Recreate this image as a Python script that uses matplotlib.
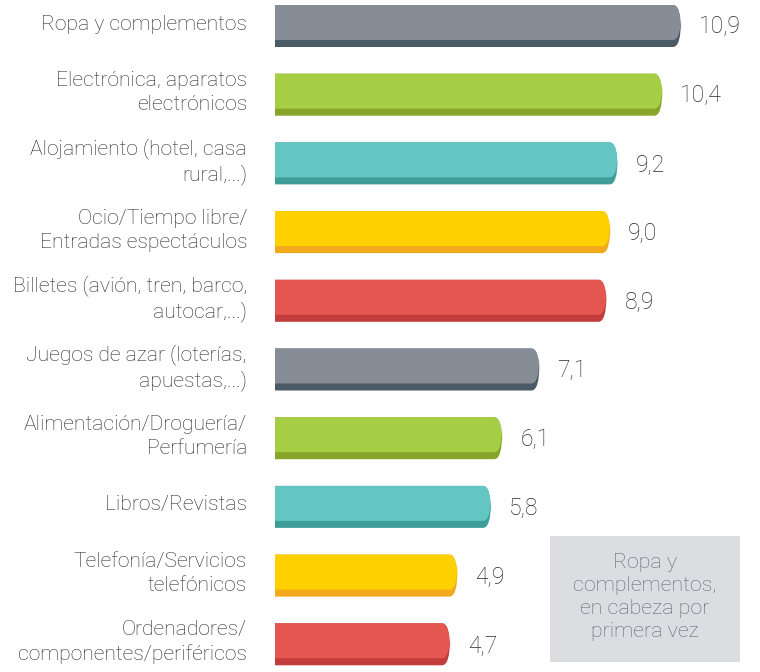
import matplotlib
matplotlib.use("Agg")
import matplotlib.pyplot as plt
from matplotlib.patches import FancyBboxPatch, Rectangle

categories = [
    "Ropa y complementos",
    "Electrónica, aparatos\nelectrónicos",
    "Alojamiento (hotel, casa\nrural,...)",
    "Ocio/Tiempo libre/\nEntradas espectáculos",
    "Billetes (avión, tren, barco,\nautocar,...)",
    "Juegos de azar (loterías,\napuestas,...)",
    "Alimentación/Droguería/\nPerfumería",
    "Libros/Revistas",
    "Telefonía/Servicios\ntelefónicos",
    "Ordenadores/\ncomponentes/periféricos",
]
values = [10.9, 10.4, 9.2, 9.0, 8.9, 7.1, 6.1, 5.8, 4.9, 4.7]
note = "Ropa y\ncomplementos,\nen cabeza por\nprimera vez"

light = ["#868d96", "#a6ce45", "#63c6c3", "#fed000", "#e45650"]
dark = ["#4b5b66", "#87a42b", "#3f9d99", "#f2a91c", "#c13c3b"]

plt.rcParams['font.family'] = ['Roboto', 'DejaVu Sans']

W, H = 760, 672
fig = plt.figure(figsize=(W / 100, H / 100), dpi=100)
x0 = 275
px_x = 37.25   # px per x unit
px_y = 68.7    # px per y unit
ax = fig.add_axes([x0 / W, 0, 1 - x0 / W, 1])
ax.set_xlim(0, (W - x0) / px_x)
ax.set_ylim((H - 26) / px_y, -26 / px_y)
ax.axis("off")

bar_h = 42 / px_y
strip = 7 / px_y
r = 8 / px_x
aspect = px_x / px_y
for i, (v, lab) in enumerate(zip(values, categories)):
    c = i % 5
    top = i - bar_h / 2
    p = FancyBboxPatch((-1, top), v + 1, bar_h,
                       boxstyle=f"round,pad=0,rounding_size={r}",
                       mutation_aspect=1 / aspect, fc=dark[c], ec="none")
    ax.add_patch(p)
    p2 = FancyBboxPatch((-1, top), v + 1, bar_h - strip,
                        boxstyle=f"round,pad=0,rounding_size={r}",
                        mutation_aspect=1 / aspect, fc=light[c], ec="none")
    ax.add_patch(p2)
    ax.text(v + 18 / px_x, i + 1 / px_y, f"{v:.1f}".replace(".", ","), ha="left", va="center",
            fontsize=16.5, color="#2a2a2a", fontweight="light")
    ax.text(-28 / px_x, i - 2 / px_y, lab, ha="right", va="center", fontsize=15.2,
            color="#2a2a2a", fontweight="light", linespacing=1.32, clip_on=False)

fig.patches.append(Rectangle((550 / W, 1 - 662 / H), 190 / W, 126 / H,
                             transform=fig.transFigure, fc="#dcdde0", ec="none"))
fig.text(645 / W, 1 - 597 / H, note, ha="center", va="center", fontsize=15.4,
         color="#5b6974", fontweight="light", linespacing=1.25)

fig.savefig("out.png", dpi=100)
